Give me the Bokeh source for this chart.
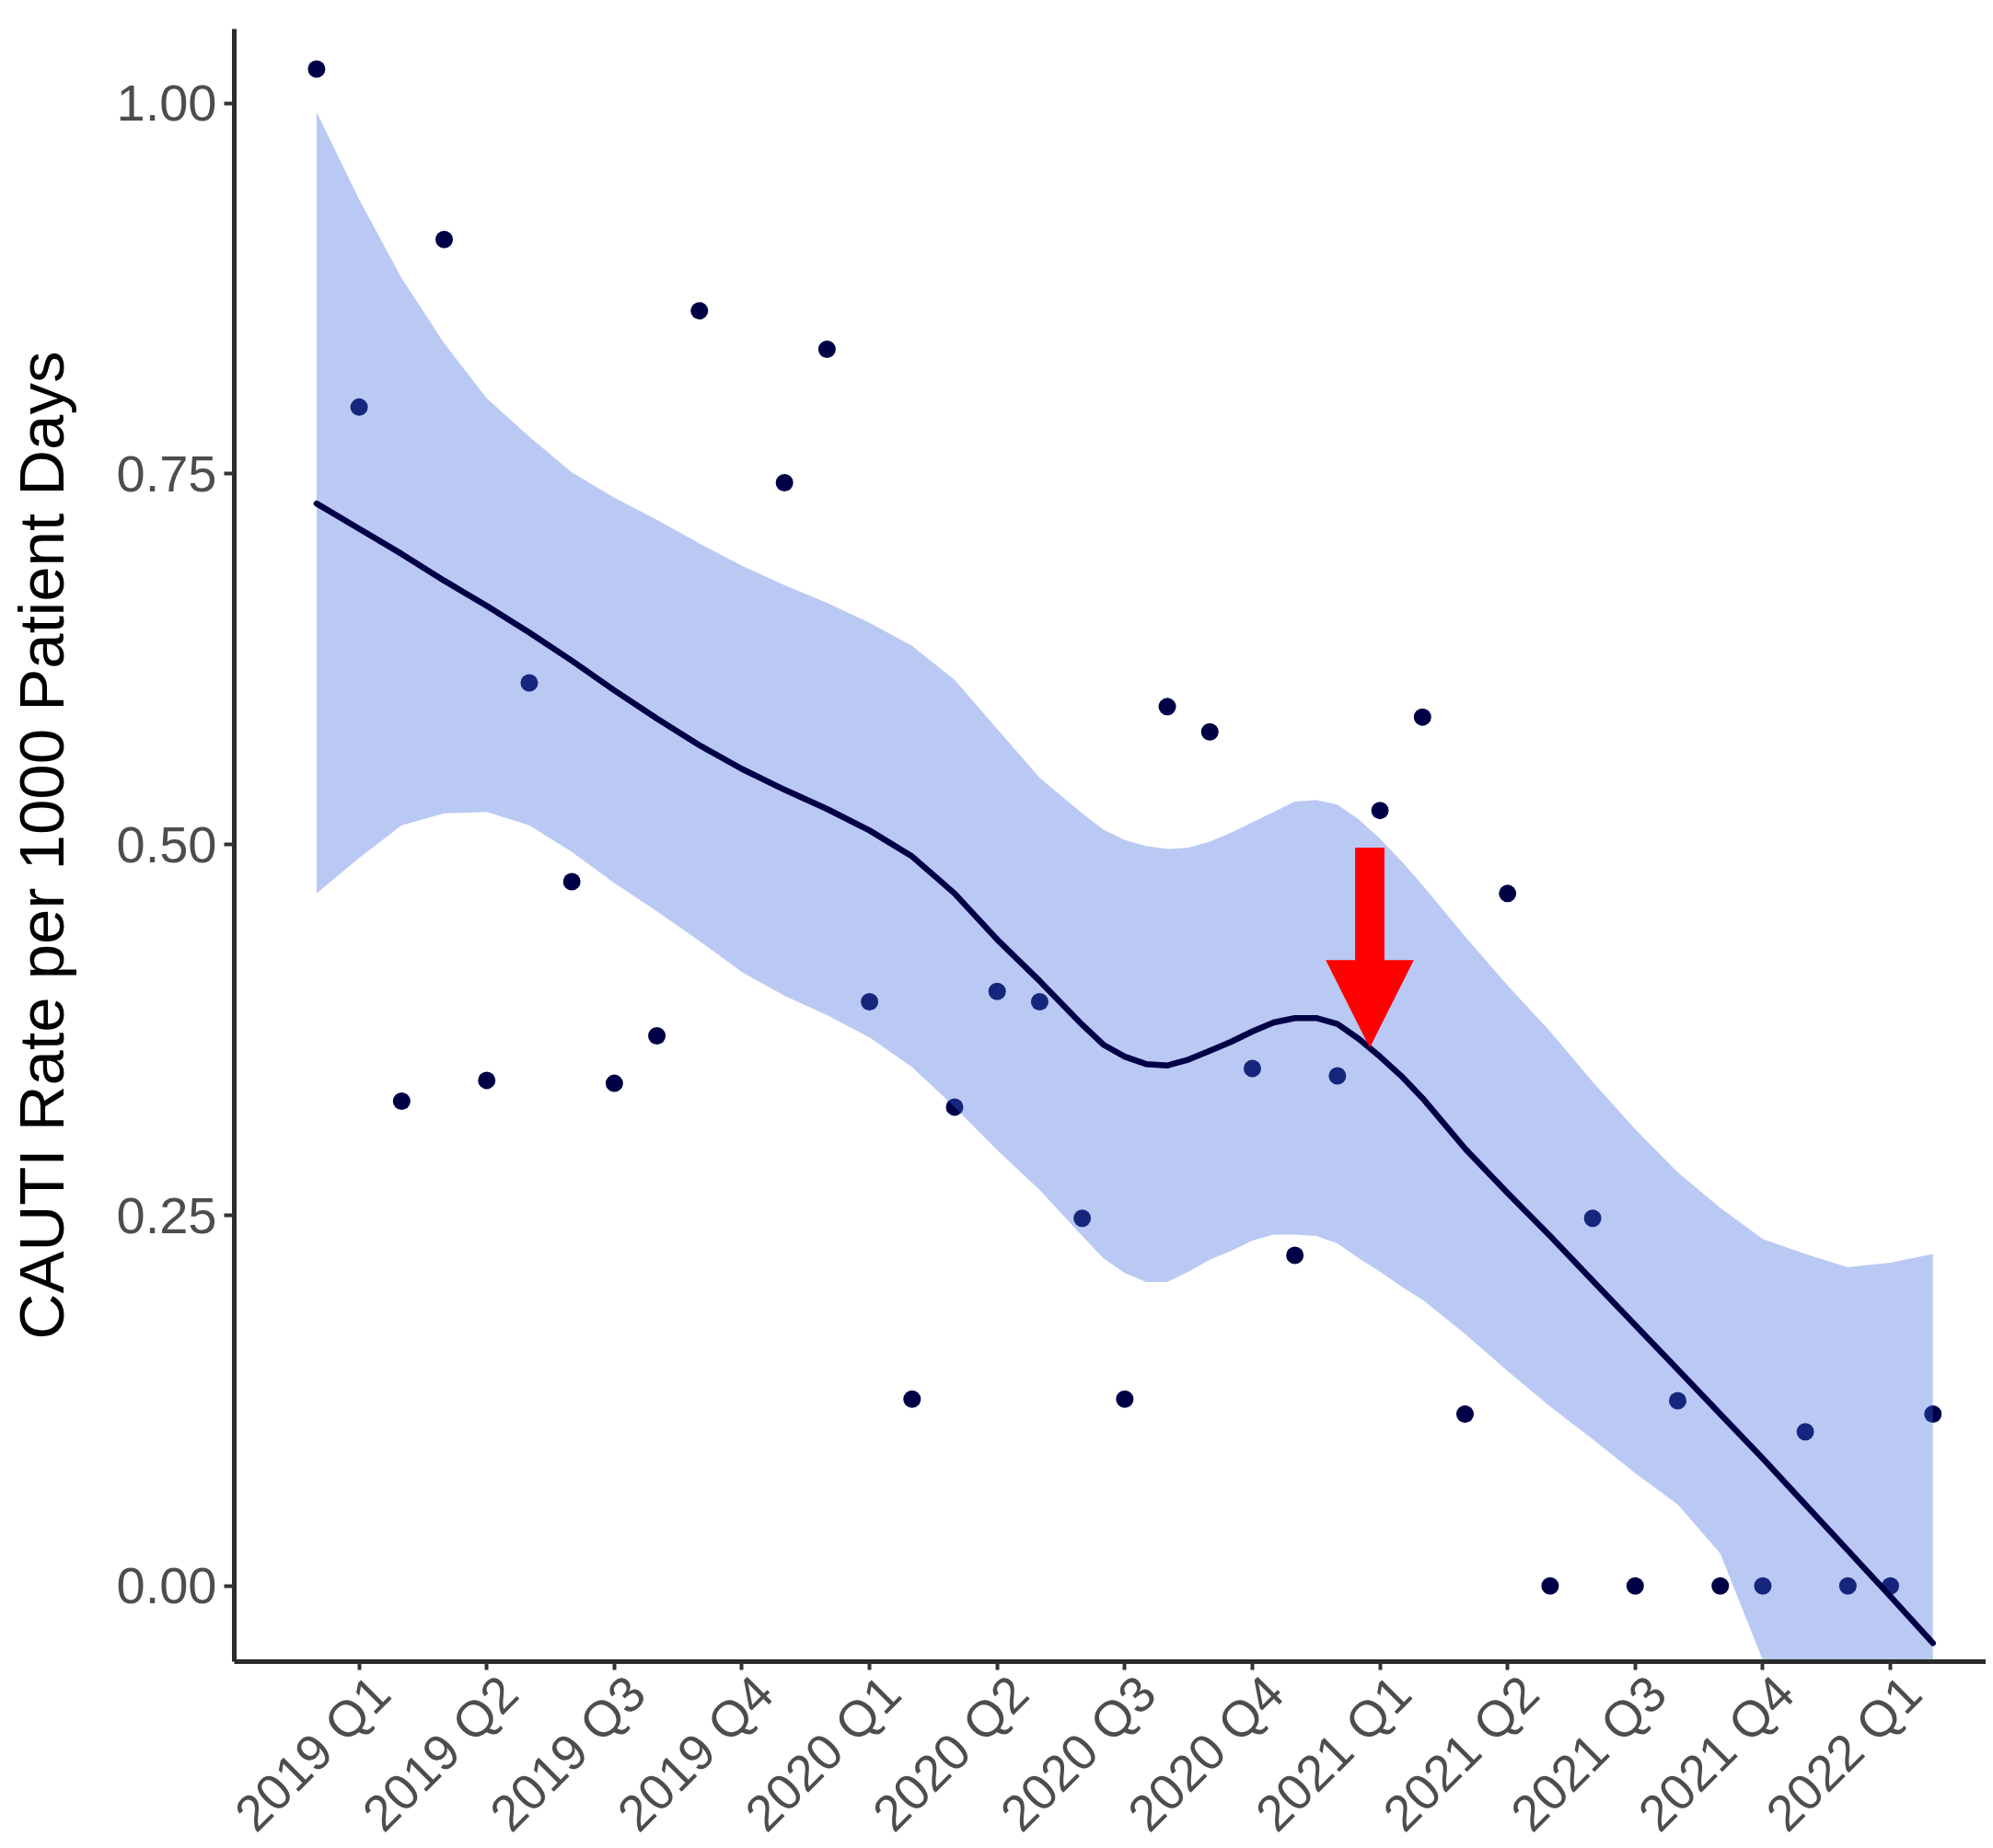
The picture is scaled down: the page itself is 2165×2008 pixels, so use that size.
import math
from bokeh.plotting import figure
from bokeh.layouts import column
from bokeh.models import Range1d, FixedTicker, NumeralTickFormatter
from bokeh.core.properties import value
from bokeh.embed import file_html
from bokeh.resources import INLINE

# ---- data (month index; 0 = "2019 Q1" tick) ----
months = [-1, 0, 1, 2, 3, 4, 5, 6, 7, 8, 10, 11, 12, 13, 14, 15, 16, 17, 18, 19,
          20, 21, 22, 23, 24, 25, 26, 27, 28, 29, 30, 31, 32, 33, 34, 35, 36, 37]
rates = [1.023, 0.795, 0.327, 0.908, 0.341, 0.609, 0.475, 0.339, 0.371, 0.860,
         0.744, 0.834, 0.394, 0.126, 0.323, 0.401, 0.394, 0.248, 0.126, 0.593,
         0.576, 0.349, 0.223, 0.344, 0.523, 0.586, 0.116, 0.467, 0.0, 0.248,
         0.0, 0.125, 0.0, 0.0, 0.104, 0.0, 0.0, 0.116]

# loess smooth and its confidence band
smooth_x = [-1, 0, 1, 2, 3, 4, 5, 6, 7, 8, 9, 10, 11, 12, 13, 14, 15, 16, 17,
            17.5, 18, 18.5, 19, 19.5, 20, 20.5, 21, 21.5, 22, 22.5, 23, 23.5,
            24, 24.5, 25, 26, 27, 28, 29, 30, 31, 32, 33, 34, 35, 36, 37]
smooth_fit = [0.730, 0.713, 0.696, 0.678, 0.661, 0.643, 0.624, 0.604, 0.585, 0.567,
              0.551, 0.537, 0.524, 0.5095, 0.492, 0.467, 0.436, 0.408, 0.3785,
              0.365, 0.357, 0.352, 0.351, 0.355, 0.361, 0.367, 0.374, 0.380,
              0.383, 0.383, 0.379, 0.369, 0.357, 0.344, 0.329, 0.295, 0.265,
              0.236, 0.206, 0.176, 0.146, 0.116, 0.086, 0.055, 0.024, -0.007, -0.0385]
smooth_upper = [0.994, 0.935, 0.882, 0.838, 0.801, 0.775, 0.751, 0.734, 0.719, 0.703,
                0.688, 0.675, 0.663, 0.6495, 0.634, 0.611, 0.578, 0.545, 0.521,
                0.510, 0.503, 0.499, 0.497, 0.498, 0.502, 0.508, 0.515, 0.522,
                0.529, 0.530, 0.527, 0.517, 0.504, 0.489, 0.4726, 0.438, 0.405,
                0.374, 0.340, 0.308, 0.279, 0.255, 0.234, 0.224, 0.215, 0.218, 0.224]
smooth_lower = [0.467, 0.491, 0.513, 0.521, 0.522, 0.513, 0.495, 0.474, 0.455, 0.435,
                0.414, 0.398, 0.385, 0.370, 0.350, 0.323, 0.294, 0.267, 0.236,
                0.221, 0.211, 0.205, 0.205, 0.212, 0.220, 0.226, 0.233, 0.237,
                0.237, 0.236, 0.231, 0.221, 0.212, 0.202, 0.193, 0.170, 0.145,
                0.121, 0.099, 0.076, 0.055, 0.022, -0.050, -0.114, -0.167, -0.232, -0.301]

tick_positions = [0, 3, 6, 9, 12, 15, 18, 21, 24, 27, 30, 33, 36]
tick_labels = ["2019 Q1", "2019 Q2", "2019 Q3", "2019 Q4", "2020 Q1", "2020 Q2",
               "2020 Q3", "2020 Q4", "2021 Q1", "2021 Q2", "2021 Q3", "2021 Q4",
               "2022 Q1"]
y_ticks = [0.0, 0.25, 0.50, 0.75, 1.00]

# red arrow annotation (data coordinates)
arrow_x = 23.76
arrow_shaft_half = 0.345
arrow_head_half = 1.035
arrow_top = 0.498
arrow_head_base = 0.422
arrow_tip = 0.363

FONT = "Liberation Sans"
TICK_COLOR = "#4D4D4D"
NAVY = "#000046"

WIDTH = 2157
LEFT = 254           # frame left edge (px)
TOP = 31             # frame top edge (px)
FRAME_H = 1774       # frame height (px)
AXIS_BAND = 12       # space below frame for axis line + ticks
LABEL_BAND = 2000 - (TOP + FRAME_H + AXIS_BAND)   # strip for rotated tick labels

X_START, X_END = -2.935, 38.25
Y_START, Y_END = -0.051, 1.050
px_per_month = (WIDTH - LEFT) / (X_END - X_START)
x_range = Range1d(X_START, X_END)

p = figure(width=WIDTH, height=TOP + FRAME_H + AXIS_BAND, output_backend="svg",
           toolbar_location=None,
           x_range=x_range, y_range=Range1d(Y_START, Y_END),
           min_border_left=LEFT, min_border_right=0, min_border_top=TOP,
           min_border_bottom=AXIS_BAND)
p.outline_line_color = None
p.xgrid.visible = False
p.ygrid.visible = False
p.background_fill_color = "white"
p.border_fill_color = "white"

# points
p.scatter(months, rates, size=19, color=NAVY, line_color=None)

# confidence ribbon (drawn over the points, as in ggplot)
p.varea(x=smooth_x, y1=smooth_lower, y2=smooth_upper,
        fill_color="#4169E1", fill_alpha=0.36)

# smooth line
p.line(smooth_x, smooth_fit, line_color=NAVY, line_width=6.5,
       line_join="round", line_cap="round")

# arrow
arrow_xs = [arrow_x - arrow_shaft_half, arrow_x + arrow_shaft_half,
            arrow_x + arrow_shaft_half, arrow_x + arrow_head_half, arrow_x,
            arrow_x - arrow_head_half, arrow_x - arrow_shaft_half]
arrow_ys = [arrow_top, arrow_top, arrow_head_base, arrow_head_base, arrow_tip,
            arrow_head_base, arrow_head_base]
p.patch(arrow_xs, arrow_ys, fill_color="#FF0000", line_color=None)

# axes
for ax in (p.xaxis[0], p.yaxis[0]):
    ax.axis_line_color = "#2b2b2b"
    ax.axis_line_width = 5
    ax.major_tick_line_color = "#333333"
    ax.major_tick_line_width = 4
    ax.major_tick_in = 0
    ax.minor_tick_line_color = None
    ax.major_label_text_font = FONT
    ax.major_label_text_color = TICK_COLOR

p.yaxis.ticker = FixedTicker(ticks=y_ticks)
p.yaxis.formatter = NumeralTickFormatter(format="0.00")
p.yaxis.major_label_text_font_size = "56px"
p.yaxis.major_tick_out = 11
p.yaxis.major_label_standoff = 8
p.yaxis.axis_label = "CAUTI Rate per 1000 Patient Days"
p.yaxis.axis_label_text_font = FONT
p.yaxis.axis_label_text_font_size = "69px"
p.yaxis.axis_label_text_font_style = "normal"
p.yaxis.axis_label_text_color = "black"
p.yaxis.axis_label_standoff = 40

# x axis: ticks from the axis; rotated labels drawn in the strip below
p.xaxis.ticker = FixedTicker(ticks=tick_positions)
p.xaxis.major_label_overrides = {t: "" for t in tick_positions}
p.xaxis.major_label_text_font_size = "0px"
p.xaxis.major_label_standoff = 0
p.xaxis.major_tick_out = 9

# label strip: its frame is aligned with the plot frame by the column layout,
# so it shares the plot's x range; y is in pixels from the strip's top
q = figure(width=WIDTH, height=LABEL_BAND, output_backend="svg",
           toolbar_location=None,
           x_range=x_range, y_range=Range1d(LABEL_BAND, 0),
           min_border_left=LEFT, min_border_right=0, min_border_top=0,
           min_border_bottom=0, x_axis_location=None, y_axis_location=None)
q.outline_line_color = None
q.xgrid.visible = False
q.ygrid.visible = False
q.background_fill_color = "white"
q.border_fill_color = "white"

label_dx = 2 / px_per_month        # anchor offset from the tick (px -> months)
label_top = -9                     # anchor offset from the strip top (px)
q.text(x=[t + label_dx for t in tick_positions], y=[label_top] * len(tick_positions),
       text=tick_labels, angle=math.pi / 4, text_align="right",
       text_baseline="top", text_font=value(FONT), text_font_size=value("55px"),
       text_color=TICK_COLOR)

layout = column(p, q, spacing=0)
open("out.html", "w").write(file_html(layout, INLINE))
